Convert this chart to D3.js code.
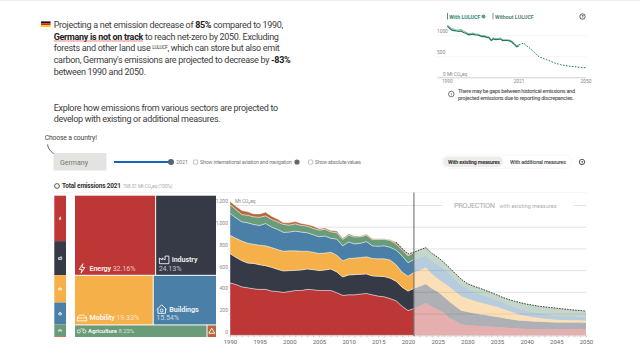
<!DOCTYPE html>
<html>
<head>
<meta charset="utf-8">
<script src="https://cdn.jsdelivr.net/npm/d3@7"></script>
<style>
  html, body { margin: 0; background: #fff; overflow: hidden; }
  svg { display: block; font-family: Roboto, sans-serif; }
</style>
</head>
<body>
<div id="chart"></div>
<script>
const sectors = ["Energy", "Industry", "Mobility", "Buildings", "Agriculture", "Waste"]
const shares = [32.16, 24.13, 19.33, 15.54, 8.25, 0.59]
const sectorColors = ["#bd3737", "#363946", "#f6b04a", "#4a80a8", "#6b9c7a", "#b9683c"]

// 1990 to 2021, Mt CO2eq
const energyHist = [483,468,446,438,428,423,423,408,403,396,403,413,413,423,420,413,413,413,393,368,373,373,380,386,373,361,355,338,318,268,228,247]
const industryHist = [270,250,241,227,234,227,218,218,205,197,193,185,189,188,185,183,189,198,190,170,183,186,182,179,174,183,186,188,180,175,179,185]
const mobilityHist = [168,175,182,183,177,180,183,182,182,182,182,180,173,164,161,158,155,155,155,149,152,152,155,158,161,161,164,167,152,140,137,148]
const buildingsHist = [203,189,176,188,182,182,206,189,186,173,173,182,176,170,161,154,158,127,149,137,152,131,131,140,116,116,119,118,134,149,124,119]
const agricultureHist = [80,76,67,70,70,76,70,70,70,73,64,67,61,61,58,61,61,61,58,60,61,64,61,58,57,63,60,64,55,58,64,63]
const wasteHist = [30,30,37,31,27,30,34,30,24,15,21,21,18,15,21,13,12,12,15,9,12,9,6,9,9,6,6,6,15,12,9,8]

// 2021 to 2050, with existing measures
const energyProj = [250,270,298,262,238,207,156,131,101,92,88,85,82,79,76,72,68,64,60,58,57,57,56,56,56,56,57,57,57,57]
const industryProj = [180,180,175,168,162,148,152,134,125,122,115,109,104,98,92,87,82,78,74,73,70,68,66,64,63,62,61,60,60,59]
const mobilityProj = [148,150,152,136,121,130,137,136,134,125,118,110,104,98,94,84,74,64,54,46,40,36,31,27,24,23,22,22,21,21]
const buildingsProj = [119,115,110,118,132,128,122,110,100,91,85,78,72,66,61,58,55,52,50,49,47,45,43,41,40,38,37,36,35,34]
const agricultureProj = [68,72,73,72,67,61,55,56,55,46,48,54,53,53,49,47,50,56,61,61,64,62,66,68,67,65,61,57,56,52]

const dashedHist = [857, 800, 750]  // 2018 to 2020, dotted line over the stack
const withLulucf = [1210,1160,1115,1105,1095,1085,1095,1060,1040,1010,1010,1020,1005,1000,985,960,965,945,940,870,905,890,895,905,865,870,870,860,830,780,720,745]

const yTicks = [0, 200, 400, 600, 800, 1000, 1200]
const xLabels = [1990, 1995, 2000, 2005, 2010, 2015, 2020, 2025, 2030, 2035, 2040, 2045, 2050]
const insetYTicks = [0, 500, 1000]
const insetXTicks = [1990, 2021, 2050]

const histYears = d3.range(1990, 2022)
const projYears = d3.range(2021, 2051)
const histSeries = [energyHist, industryHist, mobilityHist, buildingsHist, agricultureHist, wasteHist]
const projSeries = [energyProj, industryProj, mobilityProj, buildingsProj, agricultureProj]
const histTotal = histYears.map((y, i) => d3.sum(histSeries, s => s[i]))
const projTotal = projYears.map((y, i) => d3.sum(projSeries, s => s[i]))

const svg = d3.select("#chart").append("svg").attr("width", 640).attr("height", 360)

svg.append("rect").attr("width", 640).attr("height", 1).attr("fill", "#eee")

// Intro text

const textColor = "#3c3c3c"
const intro = svg.append("g").attr("font-size", 9).attr("letter-spacing", -0.3).attr("fill", textColor)

const flag = ["#111", "#d22", "#fc0"]
flag.forEach((c, i) => {
    svg.append("rect").attr("x", 41).attr("y", 21.4 + i * 1.9).attr("width", 9.5).attr("height", 1.9).attr("fill", c)
})

function addLine(y, parts) {
    const t = intro.append("text").attr("x", 53.7).attr("y", y)
    parts.forEach(p => {
        const s = t.append("tspan").text(p.t)
        if (p.b) s.attr("font-weight", 700).attr("fill", "#222")
        if (p.sup) s.attr("font-size", 4.8).attr("dy", -2.8)
        if (p.down) s.attr("dy", 2.8)
    })
}

addLine(28.3, [{t: "Projecting a net emission decrease of "}, {t: "85%", b: true}, {t: " compared to 1990,"}])
addLine(40, [{t: "Germany is not on track", b: true}, {t: " to reach net-zero by 2050. Excluding"}])
addLine(51.3, [{t: "forests and other land use "}, {t: "LULUCF", sup: true}, {t: ", which can store but also emit", down: true}])
addLine(63, [{t: "carbon, Germany's emissions are projected to decrease by "}, {t: "-83%", b: true}])
addLine(74.5, [{t: "between 1990 and 2050."}])
addLine(110.8, [{t: "Explore how emissions from various sectors are projected to"}])
addLine(122.3, [{t: "develop with existing or additional measures."}])

svg.append("line").attr("x1", 53.7).attr("x2", 143).attr("y1", 41).attr("y2", 41).attr("stroke", "#d9534f").attr("stroke-width", 0.7)

// Controls

svg.append("text").attr("x", 44.7).attr("y", 140).attr("font-size", 6.8).attr("letter-spacing", -0.15).attr("fill", "#444").text("Choose a country!")
svg.append("path").attr("d", "M47.5 144.5C48.5 151 54 155 62 157").attr("fill", "none").attr("stroke", "#222").attr("stroke-width", 0.7)
svg.append("path").attr("d", "M64 157.2L60.3 155L60 158.6Z").attr("fill", "#222")

svg.append("rect").attr("x", 53.5).attr("y", 153).attr("width", 53).attr("height", 17.5).attr("rx", 1).attr("fill", "#e4e3df")
svg.append("text").attr("x", 60).attr("y", 165).attr("font-size", 7).attr("fill", "#777").text("Germany")

svg.append("line").attr("x1", 114).attr("x2", 171).attr("y1", 162).attr("y2", 162).attr("stroke", "#1565c0").attr("stroke-width", 1.8)
svg.append("circle").attr("cx", 171).attr("cy", 162).attr("r", 3).attr("fill", "#55607a")

const smallText = svg.append("g").attr("font-size", 5.3).attr("fill", "#777")
smallText.append("text").attr("x", 176).attr("y", 164).text("2021")
smallText.append("text").attr("x", 200).attr("y", 163.7).attr("textLength", 92).text("Show international aviation and navigation")
smallText.append("text").attr("x", 315).attr("y", 163.7).attr("textLength", 46).text("Show absolute values")

;[193.5, 308.5].forEach(x => {
    svg.append("rect").attr("x", x).attr("y", 160).attr("width", 4.2).attr("height", 4.2).attr("rx", 0.5)
        .attr("fill", "#fff").attr("stroke", "#888").attr("stroke-width", 0.5)
})
svg.append("circle").attr("cx", 297).attr("cy", 162).attr("r", 2.6).attr("fill", "#666")

svg.append("rect").attr("x", 441.7).attr("y", 155).attr("width", 130).attr("height", 13.4).attr("rx", 6.7)
    .attr("fill", "#fff").attr("stroke", "#f3f3f3").attr("stroke-width", 0.7)
svg.append("rect").attr("x", 443).attr("y", 156.5).attr("width", 60).attr("height", 10.4).attr("rx", 5).attr("fill", "#eeede9")
svg.append("text").attr("x", 448).attr("y", 163.8).attr("font-size", 5.3).attr("font-weight", 700).attr("fill", "#333").attr("textLength", 52).text("With existing measures")
svg.append("text").attr("x", 510).attr("y", 163.8).attr("font-size", 5.3).attr("font-weight", 500).attr("fill", "#444").attr("textLength", 56).text("With additional measures")

function helpIcon(x, y) {
    svg.append("circle").attr("cx", x).attr("cy", y).attr("r", 2.7).attr("fill", "#fff").attr("stroke", "#333").attr("stroke-width", 0.8)
    svg.append("text").attr("x", x).attr("y", y + 1.6).attr("text-anchor", "middle").attr("font-size", 4.2).attr("font-weight", 700).attr("fill", "#333").text("?")
}
helpIcon(582, 162)
helpIcon(582.5, 16.5)

// Inset line chart

const insetX = d3.scaleLinear().domain([1990, 2050]).range([447.3, 586])
const insetY = d3.scaleLinear().domain([0, 1000]).range([77.3, 35])

const insetGrid = svg.append("g").call(d3.axisLeft(insetY).tickValues(insetYTicks).tickSize(-149).tickFormat(""))
    .attr("transform", "translate(437,0)")
insetGrid.select(".domain").remove()
insetGrid.selectAll("line").attr("stroke", d => d === 0 ? "#bbb" : "#f0f0f0").attr("stroke-width", 0.7)

const insetLabels = svg.append("g").attr("font-size", 4.8).attr("fill", "#888")
insetLabels.selectAll("text.yl").data(insetYTicks.slice(1)).join("text")
    .attr("x", 437).attr("y", d => insetY(d) - 1.8).text(d => d)
insetLabels.append("text").attr("x", 443).attr("y", 75.6).text("0 Mt CO₂eq")
insetLabels.selectAll("text.xl").data(insetXTicks).join("text")
    .attr("x", d => insetX(d)).attr("y", 83).attr("text-anchor", "middle").text(d => d)

const insetLine = d3.line().x(d => insetX(d[0])).y(d => insetY(d[1]))
svg.append("path").attr("d", insetLine(histYears.map((y, i) => [y, histTotal[i]])))
    .attr("fill", "none").attr("stroke", "#5f9e8a").attr("stroke-width", 0.7)
svg.append("path").attr("d", insetLine(histYears.map((y, i) => [y, withLulucf[i]])))
    .attr("fill", "none").attr("stroke", "#1a7a5e").attr("stroke-width", 1.2)
svg.append("path").attr("d", insetLine(projYears.map((y, i) => [y, projTotal[i]])))
    .attr("fill", "none").attr("stroke", "#1a7a5e").attr("stroke-width", 1).attr("stroke-dasharray", "1.6,1.4")

svg.append("line").attr("x1", 447.5).attr("x2", 447.5).attr("y1", 13).attr("y2", 19.5).attr("stroke", "#1a7a5e").attr("stroke-width", 0.8)
svg.append("text").attr("x", 449.3).attr("y", 18.5).attr("font-size", 5.3).attr("font-weight", 700).attr("fill", "#2f8a70").text("With LULUCF")
svg.append("circle").attr("cx", 483.5).attr("cy", 16.5).attr("r", 2).attr("fill", "#5f9e8a")
svg.append("line").attr("x1", 493).attr("x2", 493).attr("y1", 13).attr("y2", 19.5).attr("stroke", "#355").attr("stroke-width", 0.6)
svg.append("text").attr("x", 495).attr("y", 18.5).attr("font-size", 5.3).attr("font-weight", 700).attr("fill", "#5a7f78").text("Without LULUCF")

svg.append("circle").attr("cx", 451.3).attr("cy", 94).attr("r", 2.8).attr("fill", "#fff").attr("stroke", "#444").attr("stroke-width", 0.7)
svg.append("text").attr("x", 451.3).attr("y", 95.7).attr("text-anchor", "middle").attr("font-size", 4.4).attr("font-weight", 700).attr("fill", "#444").text("!")
const note = svg.append("g").attr("font-size", 5.5).attr("font-weight", 500).attr("fill", "#555")
note.append("text").attr("x", 458).attr("y", 93).attr("textLength", 117).text("There may be gaps between historical emissions and")
note.append("text").attr("x", 458).attr("y", 99.5).attr("textLength", 116).text("projected emissions due to reporting discrepancies.")

// Total header

svg.append("circle").attr("cx", 57).attr("cy", 186).attr("r", 2.4).attr("fill", "#fff").attr("stroke", "#333").attr("stroke-width", 0.8)
svg.append("text").attr("x", 62).attr("y", 188.4).attr("font-size", 6.4).attr("font-weight", 700).attr("fill", "#333").attr("textLength", 59).text("Total emissions 2021")
svg.append("text").attr("x", 123).attr("y", 188.2).attr("font-size", 4.8).attr("fill", "#aaa").attr("textLength", 49.5).text("768.51 Mt CO₂eq (100%)")
svg.append("line").attr("x1", 54).attr("x2", 586).attr("y1", 192.5).attr("y2", 192.5).attr("stroke", "#f2f2f2").attr("stroke-width", 0.7)

// Icons, white outlines drawn around their own origin

const icons = {
    Energy: "M1 -5L-3 1L0 1L-1 5L3 -1L0 -1Z",
    Industry: "M-5 4V-2L-2 0V-2L1 0V-4H5V4Z",
    Mobility: "M-5 3V0L-3 -3H2L5 0V3ZM-5 0H5",
    Buildings: "M-5 0L0 -5L5 0M-4 -1V4H4V-1M-1.5 1A1.5 1.5 0 1 0 1.5 1A1.5 1.5 0 1 0 -1.5 1",
    Agriculture: "M-4 3A2 2 0 1 0 -4 -1A2 2 0 1 0 -4 3M3 3A2 2 0 1 0 3 -1A2 2 0 1 0 3 3M-2 -2H3",
    Waste: "M0 -3L3 2H-3Z"
}

// Stacked strip on the left

const stripScale = d3.scaleLinear().domain([0, 100]).range([195.7, 337])
const stripStarts = d3.cumsum(shares)
svg.append("g").selectAll("rect").data(shares).join("rect")
    .attr("x", 54.3).attr("width", 11.7)
    .attr("y", (d, i) => stripScale(stripStarts[i] - d))
    .attr("height", d => stripScale(d) - stripScale(0))
    .attr("fill", (d, i) => sectorColors[i])
svg.append("g").selectAll("path").data(sectors.slice(0, 5)).join("path")
    .attr("d", d => icons[d])
    .attr("transform", (d, i) => `translate(60.1,${stripScale(stripStarts[i] - shares[i] / 2)}) scale(0.32)`)
    .attr("fill", "none").attr("stroke", "#fff").attr("stroke-width", 2.2)

// Treemap, rows on top of each other, each row cut left to right

const treeData = {children: [
    {children: [{name: sectors[0], value: shares[0]}, {name: sectors[1], value: shares[1]}]},
    {children: [{name: sectors[2], value: shares[2]}, {name: sectors[3], value: shares[3]}]},
    {children: [{name: sectors[4], value: shares[4]}, {name: sectors[5], value: shares[5]}]},
]}
const treeRoot = d3.hierarchy(treeData).sum(d => d.value || 0)
const rowTile = (node, x0, y0, x1, y1) => (node.depth ? d3.treemapDice : d3.treemapSlice)(node, x0, y0, x1, y1)
d3.treemap().tile(rowTile).size([141, 141.3]).paddingInner(1)(treeRoot)

const tree = svg.append("g").attr("transform", "translate(75,195.7)")
const leaves = tree.selectAll("g").data(treeRoot.leaves()).join("g")
    .attr("transform", d => `translate(${d.x0},${d.y0})`)
leaves.append("rect")
    .attr("width", d => d.x1 - d.x0)
    .attr("height", d => d.y1 - d.y0)
    .attr("fill", d => sectorColors[sectors.indexOf(d.data.name)])

function treeLabel(name, twoRows, size) {
    const leaf = leaves.filter(d => d.data.name === name)
    const d = leaf.datum()
    const h = d.y1 - d.y0
    const pct = d3.format(".2f")(d.value) + "%"
    const nameY = twoRows ? h - 12.5 : h - 4
    const iconX = twoRows ? 8 : 7
    leaf.append("path").attr("d", icons[name])
        .attr("transform", `translate(${iconX},${nameY - 2.4}) scale(${size > 7 ? 0.95 : 0.8})`)
        .attr("fill", "none").attr("stroke", "#fff").attr("stroke-width", 0.9)
    const t = leaf.append("text").attr("x", iconX + (size > 7 ? 7.5 : 6)).attr("y", nameY)
        .attr("font-size", size).attr("letter-spacing", -0.1).attr("fill", "#fff")
    t.append("tspan").attr("font-weight", 700).attr("fill-opacity", 0.9).text(name)
    if (twoRows) {
        leaf.append("text").attr("x", 2.5).attr("y", h - 4).attr("font-size", size)
            .attr("letter-spacing", -0.1).attr("fill", "#fff").attr("fill-opacity", 0.7).text(pct)
    } else {
        t.append("tspan").attr("dx", 1.5).attr("fill-opacity", 0.7).text(pct)
    }
}
treeLabel("Energy", false, 7.2)
treeLabel("Industry", true, 7.2)
treeLabel("Mobility", false, 7.2)
treeLabel("Buildings", true, 7.2)
treeLabel("Agriculture", false, 6)
leaves.filter(d => d.data.name === "Waste").append("path").attr("d", icons.Waste)
    .attr("transform", d => `translate(${(d.x1 - d.x0) / 2},${(d.y1 - d.y0) / 2})`)
    .attr("fill", "none").attr("stroke", "#fff").attr("stroke-width", 0.9)

// Stacked area chart

const x = d3.scaleLinear().domain([1990, 2050]).range([230, 586])
const y = d3.scaleLinear().domain([0, 1200]).range([335.3, 205])

const grid = svg.append("g").attr("transform", "translate(586,0)")
    .call(d3.axisLeft(y).tickValues(yTicks).tickSize(358).tickFormat(""))
grid.select(".domain").remove()
grid.selectAll("line").attr("stroke", "#dcdcdc").attr("stroke-width", 0.8)

svg.append("g").attr("font-size", 5).attr("fill", "#888").selectAll("text").data(yTicks).join("text")
    .attr("x", 228).attr("y", d => y(d) - 1.6).attr("text-anchor", "end").text(d => d3.format(",")(d))
svg.append("text").attr("x", 235).attr("y", 203.4).attr("font-size", 4.8).attr("fill", "#888").text("Mt CO₂eq")

const area = d3.area().x(d => x(d.data.year)).y0(d => y(d[0])).y1(d => y(d[1]))

const projRows = projYears.map((year, i) => {
    const row = {year}
    projSeries.forEach((s, k) => { row[sectors[k]] = s[i] })
    return row
})
const projStack = d3.stack().keys(sectors.slice(0, 5))(projRows)
svg.append("g").selectAll("path").data(projStack).join("path")
    .attr("d", area)
    .attr("fill", (d, i) => sectorColors[i])
    .attr("fill-opacity", 0.4)

const histRows = histYears.map((year, i) => {
    const row = {year}
    histSeries.forEach((s, k) => { row[sectors[k]] = s[i] })
    return row
})
const histStack = d3.stack().keys(sectors)(histRows)
svg.append("g").selectAll("path").data(histStack).join("path")
    .attr("d", area)
    .attr("fill", (d, i) => sectorColors[i])
    .attr("stroke", "#fff").attr("stroke-width", 0.5).attr("stroke-opacity", 0.8)

const dashedYears = d3.range(2018, 2051)
const dashedValues = dashedHist.concat(projTotal)
svg.append("path")
    .attr("d", d3.line().x((d, i) => x(dashedYears[i])).y(d => y(d))(dashedValues))
    .attr("fill", "none").attr("stroke", "#222").attr("stroke-width", 0.9).attr("stroke-dasharray", "1.5,1.2")

const xAxis = svg.append("g").attr("transform", "translate(0,335.3)")
    .call(d3.axisBottom(x).tickValues(d3.range(1990, 2051)).tickSize(2).tickSizeOuter(0)
        .tickFormat(d => xLabels.includes(d) ? d : ""))
xAxis.select(".domain").attr("stroke", "#ccc").attr("stroke-width", 0.5)
xAxis.selectAll("line").attr("stroke", "#aaa").attr("stroke-width", 0.5)
xAxis.selectAll("text").attr("font-size", 6).attr("font-family", "Roboto, sans-serif").attr("fill", "#666").attr("dy", 3.5)

svg.append("line").attr("x1", x(2021)).attr("x2", x(2021)).attr("y1", 192.5).attr("y2", 336)
    .attr("stroke", "#555").attr("stroke-width", 0.9)

svg.append("rect").attr("x", 443).attr("y", 201).attr("width", 130).attr("height", 8).attr("fill", "#fff")
svg.append("text").attr("x", 454).attr("y", 207.7).attr("font-size", 7.4).attr("fill", "#aaa").attr("textLength", 41).text("PROJECTION")
svg.append("text").attr("x", 499.5).attr("y", 207.5).attr("font-size", 5.3).attr("fill", "#aaa").attr("textLength", 57).text("with existing measures")
</script>
</body>
</html>
